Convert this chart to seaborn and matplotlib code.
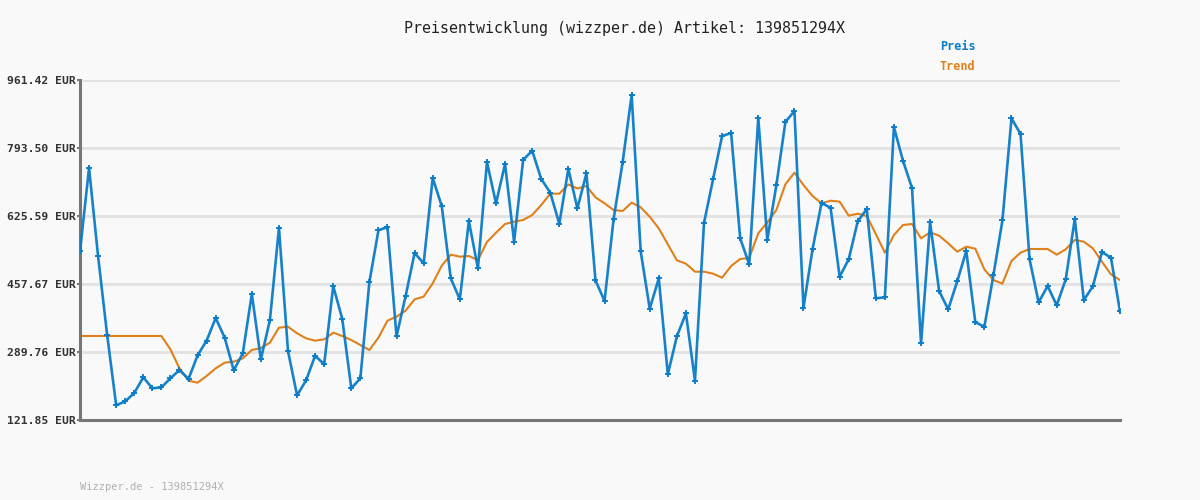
import numpy as np
import pandas as pd
import matplotlib
matplotlib.use("Agg")
import matplotlib.pyplot as plt
import seaborn as sns

# Preisdaten
preis = [538.3, 744.1, 526.0, 332.5, 158.0, 167.9, 188.5, 227.2, 200.0, 202.5,
         224.7, 245.3, 223.1, 281.5, 317.7, 373.7, 325.1, 244.5, 286.4, 433.0,
         271.6, 368.8, 595.9, 292.2, 182.7, 219.8, 280.7, 259.3, 452.7, 371.2,
         200.0, 224.7, 462.6, 590.2, 598.4, 328.4, 427.2, 534.2, 508.7, 719.4,
         650.3, 471.6, 419.8, 613.2, 496.3, 758.9, 656.9, 754.0, 562.2, 763.9,
         786.9, 716.9, 683.2, 606.6, 741.6, 644.5, 730.9, 466.7, 415.7, 617.3,
         758.1, 924.4, 538.3, 396.7, 471.6, 234.6, 328.4, 385.2, 219.0, 608.3,
         716.1, 823.1, 830.5, 570.4, 506.2, 867.6, 567.1, 701.3, 857.7, 884.9,
         399.2, 543.3, 658.5, 645.3, 475.8, 518.6, 612.4, 642.9, 422.3, 424.7,
         845.3, 762.2, 694.7, 311.1, 609.9, 440.4, 395.1, 464.2, 539.1, 363.8,
         351.5, 479.1, 614.9, 866.7, 828.1, 518.6, 412.4, 452.7, 405.0, 469.2,
         618.2, 418.1, 451.9, 536.7, 522.7, 390.2]

trend = [329.3, 329.3, 329.3, 329.3, 329.3, 329.3, 329.3, 329.3, 329.3, 329.3,
         296.3, 249.4, 219.0, 214.0, 230.5, 249.4, 263.4, 265.9, 274.1, 294.7,
         299.6, 312.8, 349.8, 352.3, 336.0, 323.5, 317.7, 321.0, 337.5, 329.3,
         319.4, 307.0, 294.7, 325.1, 367.1, 377.0, 391.8, 419.8, 426.4, 459.3,
         502.9, 530.1, 525.2, 526.8, 516.9, 561.4, 584.4, 605.8, 611.6, 615.7,
         628.0, 652.7, 680.7, 680.7, 703.5, 693.5, 699.7, 671.7, 656.9, 640.4,
         637.9, 658.5, 647.0, 623.9, 595.1, 555.6, 516.1, 507.9, 488.1, 488.1,
         483.2, 473.3, 502.1, 519.4, 521.9, 582.8, 609.9, 640.4, 703.8, 732.6,
         702.1, 675.0, 656.9, 663.4, 661.0, 626.4, 631.3, 625.6, 581.1, 535.0,
         578.7, 603.3, 605.8, 570.4, 585.2, 577.0, 558.1, 537.5, 549.8, 544.9,
         493.9, 467.5, 458.5, 514.5, 535.0, 544.1, 544.1, 544.1, 530.1, 543.3,
         566.3, 562.2, 545.7, 512.8, 481.5, 467.5]

y_ticks = [121.85, 289.76, 457.67, 625.59, 793.50, 961.42]

artikel = "139851294X"
blau = "#0a7cc8"
orange = "#e0801a"
bg = "#f9f9f9"

df = pd.DataFrame({"idx": range(len(preis)), "Preis": preis, "Trend": trend})

plt.rcParams['font.family'] = ['DejaVu Sans Mono']

fig = plt.figure(figsize=(12, 5), dpi=100, facecolor=bg)
ax = fig.add_axes([80 / 1200, 1 - 420 / 500, 1040 / 1200, 340 / 500])
ax.set_facecolor(bg)

# Gitterlinien
for t in y_ticks:
    ax.axhline(t, color="#e2e2e2", lw=2, zorder=0)

sns.lineplot(data=df, x="idx", y="Trend", ax=ax, color=orange, lw=1.5, zorder=2)
sns.lineplot(data=df, x="idx", y="Preis", ax=ax, color=blau, lw=1.9, zorder=3,
             marker="P", markersize=4.2, markeredgewidth=0, alpha=0.95)

ax.set_xlim(0, len(preis) - 1)
ax.set_ylim(y_ticks[0], y_ticks[-1])
ax.set_yticks(y_ticks)
ax.set_yticklabels([f"{t:.2f} EUR" for t in y_ticks], fontsize=8.2, fontweight="bold", color="#333333")
ax.set_xticks([])
ax.set_xlabel("")
ax.set_ylabel("")
ax.tick_params(axis="y", length=2, width=1.5, color="#777777", pad=1)

for s in ["top", "right"]:
    ax.spines[s].set_visible(False)
for s in ["left", "bottom"]:
    ax.spines[s].set_color("#777777")
    ax.spines[s].set_linewidth(2.2)

fig.text(624 / 1200, 1 - 28 / 500, f"Preisentwicklung (wizzper.de) Artikel: {artikel}",
         ha="center", va="center", fontsize=10.8, color="#222222")
fig.text(940 / 1200, 1 - 47 / 500, "Preis", ha="left", va="center",
         fontsize=8.5, fontweight="bold", color=blau)
fig.text(940 / 1200, 1 - 67 / 500, "Trend", ha="left", va="center",
         fontsize=8.5, fontweight="bold", color=orange)
fig.text(80 / 1200, 1 - 487 / 500, f"Wizzper.de - {artikel}", ha="left", va="center",
         fontsize=7.5, color="#b0b0b0")

fig.savefig("out.png", dpi=100, facecolor=bg)
